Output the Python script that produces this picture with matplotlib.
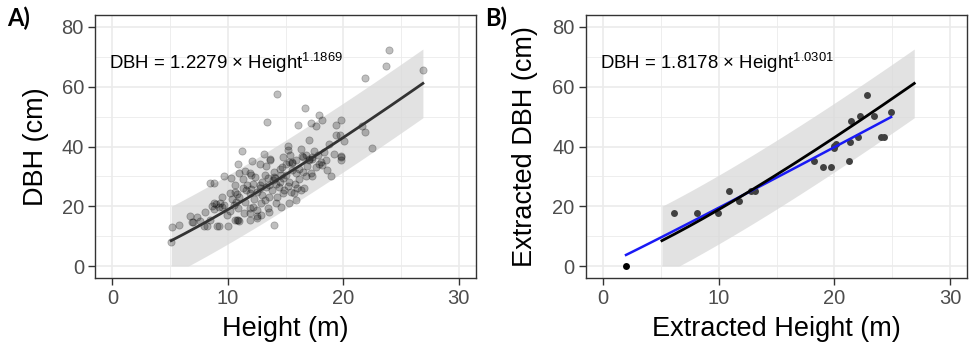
import numpy as np
import matplotlib
matplotlib.use("Agg")
import matplotlib.pyplot as plt
from matplotlib.ticker import MultipleLocator

plt.rcParams['font.family'] = ['Liberation Sans', 'DejaVu Sans']
plt.rcParams['mathtext.fontset'] = 'custom'
plt.rcParams['mathtext.rm'] = 'Liberation Sans'
plt.rcParams['mathtext.it'] = 'Liberation Sans:italic'

# field data (panel A): height (m), DBH (cm)
hA = [5.15, 5.8, 6.7, 7.0, 7.6, 7.9, 8.2, 8.5, 8.8, 8.8, 9.0, 9.3, 9.5, 9.7, 8.8, 9.2, 9.2, 10.0,
      9.65, 10.3, 10.2, 10.6, 10.8, 11.0, 10.4, 10.7, 10.9, 10.8, 11.0, 11.0, 11.5, 11.9, 12.0,
      12.4, 12.75, 13.3, 13.7, 14.0, 14.1, 11.9, 11.9, 12.2, 12.5, 12.5, 12.9, 13.2, 13.5, 13.6,
      14.0, 14.2, 14.6, 14.75, 14.9, 15.3, 15.5, 15.7, 15.9, 16.0, 16.3, 16.6, 14.5, 14.7, 15.0,
      15.3, 15.55, 15.9, 16.5, 16.8, 17.0, 17.3, 17.8, 18.05, 18.5, 18.9, 19.8, 19.8, 11.3, 11.6,
      11.9, 12.2, 12.5, 12.75, 13.0, 13.3, 13.6, 13.9, 14.2, 14.5, 14.75, 15.0, 15.3, 15.6, 15.9,
      16.2, 16.5, 16.8, 17.2, 17.3, 24.0, 23.7, 26.9, 21.9, 14.3, 16.7, 17.9, 18.2, 17.2, 17.6,
      16.1, 13.4, 19.8, 19.4, 21.6, 21.9, 19.4, 19.7, 17.0, 22.5, 15.2, 15.2, 11.2, 18.8, 19.8,
      17.9, 18.2, 17.6, 17.3, 12.8, 13.2, 13.8, 14.4, 13.5, 14.0, 12.3, 11.5, 10.2, 9.9, 10.5,
      11.7, 12.0, 13.0, 14.3, 15.8, 16.2, 14.6, 15.2, 13.6, 12.9, 11.4, 10.6, 9.5, 8.6, 8.0, 7.3,
      16.9, 17.5, 18.3, 16.3, 14.8, 13.1, 12.1, 18.6, 19.2, 15.4, 20.1, 11.3, 10.9, 5.1, 6.9,
      8.5, 9.1, 10.6, 10.9, 11.9, 12.5, 16.4, 17.0, 15.6, 13.7]
dA = [13.0, 13.6, 16.6, 14.6, 15.0, 13.4, 13.4, 27.8, 27.8, 21.2, 20.8, 21.2, 19.9, 20.5, 19.0,
      19.9, 13.4, 13.4, 30.1, 29.3, 24.3, 24.9, 24.0, 23.2, 22.6, 21.5, 19.3, 15.4, 15.2, 31.0,
      31.8, 31.2, 30.4, 29.8, 34.3, 33.5, 35.6, 29.8, 29.3, 19.3, 17.7, 19.9, 16.0, 18.8, 21.0,
      22.1, 19.3, 23.2, 13.6, 21.0, 19.9, 24.3, 25.4, 21.0, 24.9, 24.3, 22.1, 26.0, 25.4, 26.0,
      32.6, 33.2, 34.3, 34.8, 34.5, 35.4, 36.5, 37.0, 35.9, 36.5, 37.0, 34.8, 35.4, 30.1, 36.5,
      35.6, 26.0, 25.4, 24.3, 27.6, 24.9, 26.0, 28.2, 26.5, 27.1, 28.7, 27.6, 28.2, 29.3, 30.4,
      28.2, 32.1, 31.0, 32.6, 31.5, 30.1, 31.0, 30.1, 72.2, 66.9, 65.6, 63.0, 57.7, 52.8, 50.7,
      49.0, 47.8, 47.0, 47.2, 48.3, 48.9, 47.3, 46.7, 45.0, 43.7, 43.7, 42.3, 39.4, 40.1, 38.7,
      38.4, 40.9, 36.7, 34.3, 33.7, 33.2, 35.9, 27.0, 30.5, 25.5, 26.5, 29.5, 31.5, 22.5, 21.5,
      18.5, 17.0, 20.5, 27.0, 25.8, 23.8, 23.0, 27.5, 29.0, 30.5, 26.8, 18.0, 17.2, 17.8, 27.0,
      23.0, 20.0, 18.2, 16.5, 33.5, 38.5, 38.0, 39.2, 36.5, 37.5, 35.0, 32.0, 37.5, 37.2, 42.0,
      29.0, 34.0, 8.0, 14.7, 15.4, 13.4, 15.4, 15.4, 15.4, 16.6, 36.9, 35.4, 34.8, 35.7]

# extracted data (panel B)
hB = [6.16, 8.14, 9.91, 10.89, 11.72, 12.81, 13.16, 18.23, 19.06, 19.74, 19.97, 20.12, 19.95,
      21.24, 21.35, 21.46, 22.01, 22.18, 22.79, 23.44, 24.02, 24.25, 24.9]
dB = [17.7, 17.7, 17.7, 25.0, 21.7, 25.0, 25.0, 35.3, 33.1, 33.1, 39.6, 40.9, 40.3,
      35.3, 41.5, 48.4, 43.2, 50.1, 57.3, 50.1, 43.2, 43.2, 51.6]
hB_zero = [2.0]
dB_zero = [0.0]

# power-law fits DBH = a * Height^b
fit_ref = (1.2279, 1.1869)
fit_ext = (1.8178, 1.0301)
band_half = 11.5

W, H = 973, 353
fig = plt.figure(figsize=(W / 100, H / 100), dpi=100)


def setup(ax):
    ax.set_xlim(-1.5, 31.5)
    ax.set_ylim(-4, 84)
    ax.xaxis.set_major_locator(MultipleLocator(10))
    ax.xaxis.set_minor_locator(MultipleLocator(5))
    ax.yaxis.set_major_locator(MultipleLocator(20))
    ax.yaxis.set_minor_locator(MultipleLocator(10))
    ax.grid(which='major', color='#EBEBEB', lw=1.2, zorder=0)
    ax.grid(which='minor', color='#EBEBEB', lw=0.6, zorder=0)
    ax.set_axisbelow(True)
    for s in ax.spines.values():
        s.set_color('#333333')
        s.set_linewidth(1.0)
    ax.tick_params(which='major', length=5, width=1.0, color='#333333',
                   labelcolor='#4D4D4D', labelsize=14.5, pad=3)
    ax.tick_params(which='minor', length=0)


def draw_ref(ax):
    a, b = fit_ref
    xs = np.linspace(min(hA), max(hA), 200)
    ys = a * xs ** b
    ax.fill_between(xs, np.clip(ys - band_half, 0, None), ys + band_half,
                    color='#D9D9D9', alpha=0.75, lw=0, zorder=1)
    return xs, ys


# panel A
axA = fig.add_axes([95 / W, 1 - 278 / H, 381 / W, 263 / H])
setup(axA)
xs, ys = draw_ref(axA)
axA.scatter(hA, dA, s=27, c='black', alpha=0.25, linewidths=0.6,
            edgecolors='black', zorder=2)
axA.plot(xs, ys, color='#333333', lw=2.0, zorder=3)
axA.text(-0.3, 65.8, 'DBH = 1.2279 × Height$^{1.1869}$', fontsize=13.4,
         va='baseline', ha='left', color='black')
axA.set_xlabel('Height (m)', fontsize=19.5, labelpad=6)
axA.set_ylabel('DBH (cm)', fontsize=19.5, labelpad=9)

# panel B
axB = fig.add_axes([585.5 / W, 1 - 278 / H, 382 / W, 263 / H])
setup(axB)
xs, ys = draw_ref(axB)
axB.scatter(hB, dB, s=25, c='#404040', linewidths=0, zorder=2)
axB.scatter(hB_zero, dB_zero, s=25, c='black', linewidths=0, zorder=2)
a, b = fit_ext
xe = np.linspace(min(hB_zero + hB), max(hB), 100)
axB.plot(xe, a * xe ** b, color='#1A1AF5', lw=1.8, zorder=3)
axB.plot(xs, ys, color='black', lw=2.0, zorder=4)
axB.text(-0.25, 65.8, 'DBH = 1.8178 × Height$^{1.0301}$', fontsize=13.4,
         va='baseline', ha='left', color='black')
axB.set_xlabel('Extracted Height (m)', fontsize=19.5, labelpad=6)
axB.set_ylabel('Extracted DBH (cm)', fontsize=19.5, labelpad=10)

fig.text(7 / W, 1 - 26 / H, 'A)', fontsize=17, fontweight='bold',
         family=['Lato', 'DejaVu Sans'], va='baseline')
fig.text(485 / W, 1 - 26 / H, 'B)', fontsize=17, fontweight='bold',
         family=['Lato', 'DejaVu Sans'], va='baseline')

fig.savefig('out.png', dpi=100)
